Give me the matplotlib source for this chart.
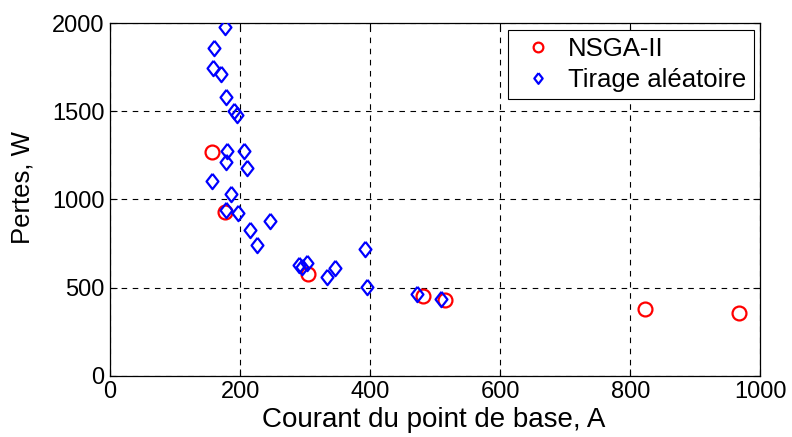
import matplotlib
matplotlib.use("Agg")
import matplotlib.pyplot as plt

plt.rcParams['font.family'] = ['Liberation Sans', 'DejaVu Sans']

# NSGA-II results
nsga_x = [156, 176, 304, 481, 515, 823, 967]
nsga_y = [1271, 927, 578, 450, 430, 378, 355]

# Random sampling (Tirage aléatoire)
rand_x = [177, 160, 158, 171, 178, 191, 195, 180, 206, 178, 211, 156, 186,
          178, 197, 246, 215, 226, 290, 295, 303, 333, 346, 392, 395, 472, 509]
rand_y = [1979, 1857, 1743, 1709, 1581, 1501, 1479, 1275, 1275, 1214, 1176,
          1107, 1029, 940, 921, 876, 827, 742, 626, 619, 638, 563, 610, 720,
          503, 465, 436]

xticks = [0, 200, 400, 600, 800, 1000]
yticks = [0, 500, 1000, 1500, 2000]

fig = plt.figure(figsize=(7.92, 4.37), dpi=100)
ax = fig.add_axes([0.139, 0.14, 0.821, 0.807])

diamond = [(0, 1), (0.78, 0), (0, -1), (-0.78, 0), (0, 1)]

ax.plot(nsga_x, nsga_y, linestyle='none', marker='o', markersize=10,
        markerfacecolor='none', markeredgecolor='#ff0000', markeredgewidth=1.6,
        label='NSGA-II', zorder=3)
ax.plot(rand_x, rand_y, linestyle='none', marker=diamond, markersize=11,
        markerfacecolor='none', markeredgecolor='#0000ff', markeredgewidth=1.6,
        label='Tirage aléatoire', zorder=4)

ax.set_xlim(0, 1000)
ax.set_ylim(0, 2000)
ax.set_xticks(xticks)
ax.set_yticks(yticks)
ax.tick_params(direction='in', labelsize=17, length=5, width=0.8,
               top=True, right=True, pad=4)
ax.grid(True, color='black', linestyle=(0, (5, 5)), linewidth=0.8)
for s in ax.spines.values():
    s.set_linewidth(0.9)

ax.set_xlabel('Courant du point de base, A', fontsize=20)
ax.xaxis.set_label_coords(0.497, -0.088)
ax.set_ylabel('Pertes, W', fontsize=18.5)
ax.yaxis.set_label_coords(-0.117, 0.535)

leg = ax.legend(loc='upper right', fontsize=18.5, frameon=True, fancybox=False,
                edgecolor='black', framealpha=1, borderpad=0.3,
                handletextpad=0.25, labelspacing=0.25, handlelength=1.8,
                borderaxespad=0.25, markerscale=0.7)
leg.get_frame().set_linewidth(0.8)

fig.savefig('out.png', dpi=100)
